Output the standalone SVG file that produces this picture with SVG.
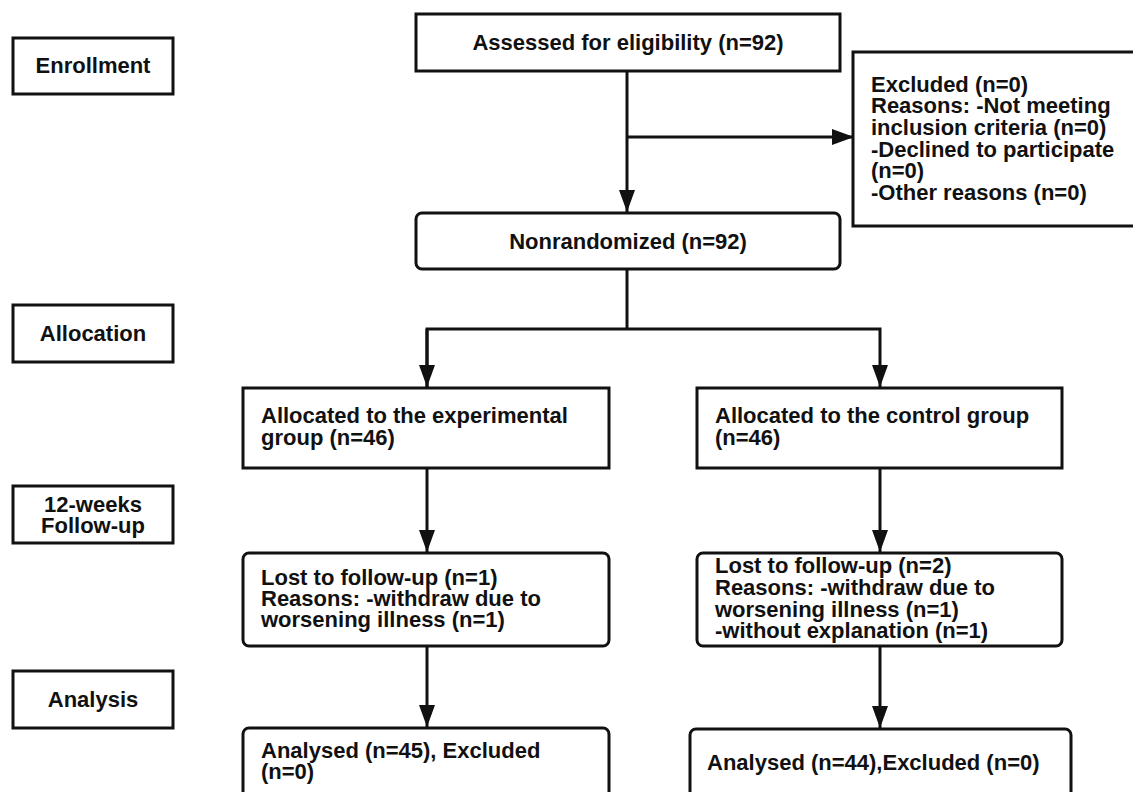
<svg xmlns="http://www.w3.org/2000/svg" width="1133" height="792" viewBox="0 0 1133 792">
<style>
.box{fill:#fff;stroke:#111;stroke-width:3}
.t{font-family:"Liberation Sans",Arial,sans-serif;font-weight:bold;font-size:22px;fill:#111}
.c{text-anchor:middle}
.ln{fill:none;stroke:#111;stroke-width:3}
</style>
<defs>
<marker id="ah" markerUnits="userSpaceOnUse" markerWidth="22" markerHeight="16" refX="22" refY="8" orient="auto">
<path d="M0,0 L22,8 L0,16 Z" fill="#111"/>
</marker>
</defs>
<rect width="1133" height="792" fill="#fff"/>
<g id="connectors">
<line class="ln" x1="627" y1="71" x2="627" y2="212" marker-end="url(#ah)"/>
<line class="ln" x1="627" y1="137" x2="854" y2="137" marker-end="url(#ah)"/>
<polyline class="ln" points="627,269 627,329"/>
<polyline class="ln" points="427,387 427,329 880,329 880,387" marker-end="url(#ah)"/>
<line class="ln" x1="427" y1="329" x2="427" y2="387" marker-end="url(#ah)"/>
<line class="ln" x1="427" y1="468" x2="427" y2="552" marker-end="url(#ah)"/>
<line class="ln" x1="880" y1="468" x2="880" y2="552" marker-end="url(#ah)"/>
<line class="ln" x1="427" y1="646" x2="427" y2="727" marker-end="url(#ah)"/>
<line class="ln" x1="880" y1="646" x2="880" y2="728" marker-end="url(#ah)"/>
</g>
<g id="enrollment">
<rect class="box" x="13" y="38" width="160" height="56"/>
<text class="t c" x="93" y="73">Enrollment</text>
</g>
<g id="assessed">
<rect class="box" x="416" y="14" width="424" height="57"/>
<text class="t c" x="628" y="50">Assessed for eligibility (n=92)</text>
</g>
<g id="excluded">
<rect class="box" x="853" y="52" width="290" height="174"/>
<text class="t" x="871"><tspan x="871" y="92">Excluded (n=0)</tspan><tspan x="871" y="113">Reasons: -Not meeting</tspan><tspan x="871" y="135">inclusion criteria (n=0)</tspan><tspan x="871" y="157">-Declined to participate</tspan><tspan x="871" y="178">(n=0)</tspan><tspan x="871" y="200">-Other reasons (n=0)</tspan></text>
</g>
<g id="nonrandomized">
<rect class="box" x="416" y="213" width="424" height="56" rx="6"/>
<text class="t c" x="628" y="249">Nonrandomized (n=92)</text>
</g>
<g id="allocation">
<rect class="box" x="13" y="305" width="160" height="57"/>
<text class="t c" x="93" y="341">Allocation</text>
</g>
<g id="exp-alloc">
<rect class="box" x="243" y="388" width="366" height="80"/>
<text class="t"><tspan x="261" y="423">Allocated to the experimental</tspan><tspan x="261" y="445">group (n=46)</tspan></text>
</g>
<g id="ctrl-alloc">
<rect class="box" x="697" y="388" width="365" height="80"/>
<text class="t"><tspan x="715" y="423">Allocated to the control group</tspan><tspan x="715" y="445">(n=46)</tspan></text>
</g>
<g id="followup">
<rect class="box" x="13" y="486" width="160" height="57"/>
<text class="t c"><tspan x="93" y="512">12-weeks</tspan><tspan x="93" y="533">Follow-up</tspan></text>
</g>
<g id="exp-lost">
<rect class="box" x="243" y="553" width="366" height="93" rx="6"/>
<text class="t"><tspan x="261" y="585">Lost to follow-up (n=1)</tspan><tspan x="261" y="606">Reasons: -withdraw due to</tspan><tspan x="261" y="627">worsening illness (n=1)</tspan></text>
</g>
<g id="ctrl-lost">
<rect class="box" x="697" y="553" width="365" height="93" rx="6"/>
<text class="t"><tspan x="715" y="573">Lost to follow-up (n=2)</tspan><tspan x="715" y="595">Reasons: -withdraw due to</tspan><tspan x="715" y="617">worsening illness (n=1)</tspan><tspan x="715" y="638">-without explanation (n=1)</tspan></text>
</g>
<g id="analysis">
<rect class="box" x="13" y="671" width="160" height="57"/>
<text class="t c" x="93" y="707">Analysis</text>
</g>
<g id="exp-analysed">
<rect class="box" x="243" y="728" width="366" height="80" rx="6"/>
<text class="t"><tspan x="261" y="758">Analysed (n=45), Excluded</tspan><tspan x="261" y="779">(n=0)</tspan></text>
</g>
<g id="ctrl-analysed">
<rect class="box" x="690" y="729" width="381" height="80" rx="6"/>
<text class="t" x="707" y="770">Analysed (n=44),Excluded (n=0)</text>
</g>
</svg>
